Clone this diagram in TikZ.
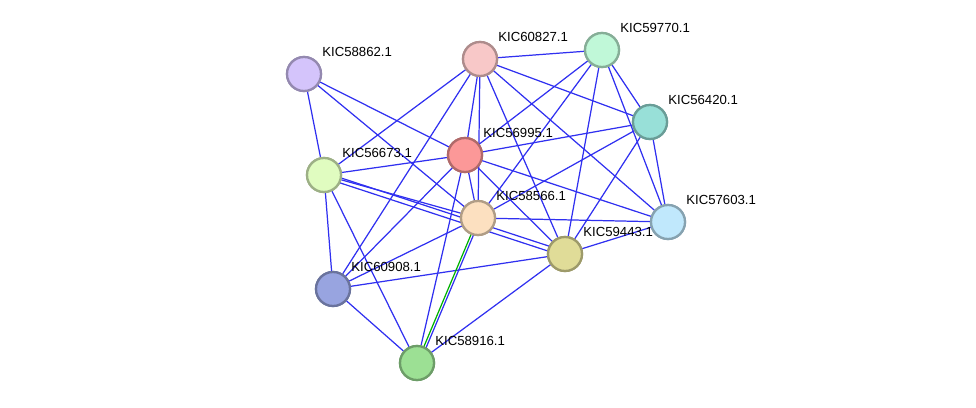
\documentclass[tikz,border=0pt]{standalone}
\usepackage{fontspec}
\setmainfont{Liberation Sans}
\usetikzlibrary{positioning}
\definecolor{Lilac}{HTML}{D4C4FB}
\definecolor{Rose}{HTML}{F8C8C8}
\definecolor{Mint}{HTML}{C0F8D8}
\definecolor{Teal}{HTML}{98E0D8}
\definecolor{Salmon}{HTML}{FC9898}
\definecolor{Lime}{HTML}{E0FCC0}
\definecolor{Peach}{HTML}{FCE0C0}
\definecolor{Sky}{HTML}{C0E8FC}
\definecolor{Olive}{HTML}{E0DC98}
\definecolor{Slate}{HTML}{98A4E0}
\definecolor{Leaf}{HTML}{9CE094}
\definecolor{EdgeBlue}{HTML}{3030F0}
\begin{document}
\begin{tikzpicture}[x=0.02cm, y=-0.02cm,
    prot/.style={circle, draw=#1!70!black, fill=#1, line width=1.3pt,
                 minimum size=0.68cm, inner sep=0pt},
    tag/.style={font=\fontsize{7.5}{9}\selectfont, anchor=west, inner sep=0pt},
    link/.style={EdgeBlue, line width=0.7pt}]
    \useasboundingbox (0,0) rectangle (976,408);

    % Proteins
    \node[prot=Lilac]  (a) at (304,74)  {};
    \node[prot=Rose]   (k) at (480,59)  {};
    \node[prot=Mint]   (m) at (602,50)  {};
    \node[prot=Teal]   (t) at (650,122) {};
    \node[prot=Salmon] (r) at (465,155) {};
    \node[prot=Lime]   (c) at (324,175) {};
    \node[prot=Peach]  (p) at (478,218) {};
    \node[prot=Sky]    (b) at (668,222) {};
    \node[prot=Olive]  (y) at (565,254) {};
    \node[prot=Slate]  (g) at (333,289) {};
    \node[prot=Leaf]   (s) at (417,363) {};

    % Links
    \foreach \u/\v in {a/c,a/r,a/p,k/m,k/t,k/r,k/p,k/y,k/b,k/c,k/g,
                       m/r,m/p,m/y,m/t,m/b,t/r,t/p,t/y,t/b,
                       r/c,r/p,r/y,r/b,r/g,r/s,c/p,c/g,c/s,
                       p/b,p/g,y/s,y/b,y/g,g/s}
        \draw[link] (\u) -- (\v);
    \draw[link] ([yshift=-1.5pt]c.center) -- ([yshift=-1.5pt]y.center);
    \draw[link] ([yshift=1.5pt]c.center) -- ([yshift=1.5pt]y.center);
    \draw[link] ([xshift=1.5pt]p.center) -- ([xshift=1.5pt]s.center);
    \draw[green!70!black, line width=0.7pt] (p.center) -- (s.center);

    % redraw proteins on top
    \foreach \n/\col in {a/Lilac,k/Rose,m/Mint,t/Teal,r/Salmon,c/Lime,
                         p/Peach,b/Sky,y/Olive,g/Slate,s/Leaf}
        \node[prot=\col] at (\n) {};

    % Labels
    \node[tag] at ([shift={(18,-22)}]a) {KIC58862.1};
    \node[tag] at ([shift={(18,-22)}]k) {KIC60827.1};
    \node[tag] at ([shift={(18,-22)}]m) {KIC59770.1};
    \node[tag] at ([shift={(18,-22)}]t) {KIC56420.1};
    \node[tag] at ([shift={(18,-22)}]r) {KIC56995.1};
    \node[tag] at ([shift={(18,-22)}]c) {KIC56673.1};
    \node[tag] at ([shift={(18,-22)}]p) {KIC58566.1};
    \node[tag] at ([shift={(18,-22)}]b) {KIC57603.1};
    \node[tag] at ([shift={(18,-22)}]y) {KIC59443.1};
    \node[tag] at ([shift={(18,-22)}]g) {KIC60908.1};
    \node[tag] at ([shift={(18,-22)}]s) {KIC58916.1};
\end{tikzpicture}
\end{document}
